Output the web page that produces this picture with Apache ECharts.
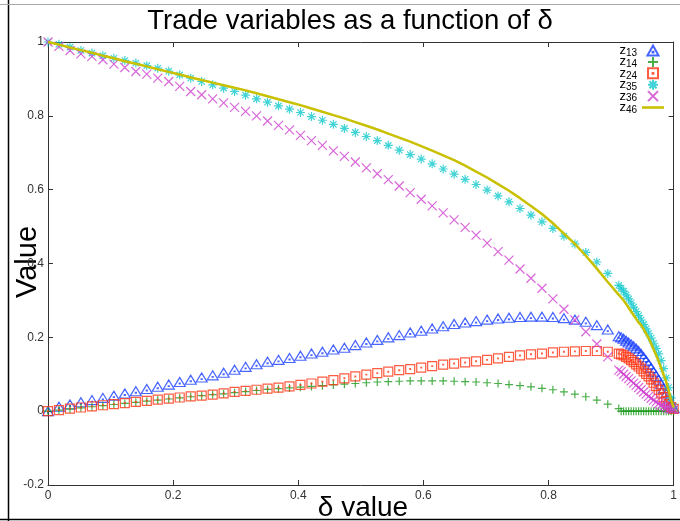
<!DOCTYPE html>
<html><head><meta charset="utf-8">
<script src="https://cdn.jsdelivr.net/npm/echarts@6/dist/echarts.min.js"></script>
<style>html,body{margin:0;padding:0;background:#fff}#c{width:680px;height:521px}</style>
</head><body><div id="c"></div>
<script>
const delta = [0, 0.0175, 0.0351, 0.0526, 0.0702, 0.0877, 0.1053, 0.1228, 0.1404, 0.1579, 0.1754, 0.193, 0.2105, 0.2281, 0.2456, 0.2632, 0.2807, 0.2982, 0.3158, 0.3333, 0.3509, 0.3684, 0.386, 0.4035, 0.4211, 0.4386, 0.4561, 0.4737, 0.4912, 0.5088, 0.5263, 0.5439, 0.5614, 0.5789, 0.5965, 0.614, 0.6316, 0.6491, 0.6667, 0.6842, 0.7018, 0.7193, 0.7368, 0.7544, 0.7719, 0.7895, 0.807, 0.8246, 0.8421, 0.8596, 0.8772, 0.8947, 0.9123,
  0.916, 0.92, 0.924, 0.928, 0.932, 0.936, 0.94, 0.944, 0.948, 0.952, 0.956, 0.96, 0.964, 0.968, 0.972, 0.976, 0.98, 0.984, 0.988, 0.992, 0.996, 1];

const z13 = [0, 0.012, 0.018, 0.024, 0.03, 0.036, 0.042, 0.048, 0.054, 0.06, 0.066, 0.072, 0.079, 0.085, 0.091, 0.097, 0.104, 0.112, 0.12, 0.127, 0.134, 0.139, 0.144, 0.15, 0.156, 0.161, 0.167, 0.172, 0.179, 0.186, 0.193, 0.2, 0.206, 0.213, 0.218, 0.224, 0.23, 0.236, 0.24, 0.244, 0.248, 0.251, 0.253, 0.255, 0.256, 0.256, 0.255, 0.252, 0.248, 0.242, 0.233, 0.221, 0.203,
  0.2, 0.196, 0.191, 0.186, 0.181, 0.176, 0.17, 0.163, 0.155, 0.146, 0.137, 0.127, 0.117, 0.107, 0.096, 0.085, 0.073, 0.061, 0.048, 0.034, 0.02, 0.008];

const z14 = [0, 0.003, 0.006, 0.009, 0.012, 0.015, 0.018, 0.021, 0.024, 0.027, 0.03, 0.033, 0.036, 0.039, 0.042, 0.045, 0.047, 0.05, 0.053, 0.056, 0.059, 0.061, 0.063, 0.065, 0.067, 0.069, 0.071, 0.073, 0.075, 0.077, 0.079, 0.08, 0.081, 0.082, 0.082, 0.082, 0.082, 0.081, 0.08, 0.079, 0.077, 0.075, 0.072, 0.069, 0.066, 0.062, 0.058, 0.052, 0.046, 0.039, 0.03, 0.019, 0.007,
  0, 0, 0, 0, 0, 0, 0, 0, 0, 0, 0, 0, 0, 0, 0, 0, 0, 0, 0, 0, 0, 0];

const z24 = [0, 0.003, 0.007, 0.01, 0.013, 0.016, 0.019, 0.022, 0.025, 0.028, 0.031, 0.034, 0.037, 0.04, 0.042, 0.045, 0.048, 0.052, 0.055, 0.058, 0.061, 0.064, 0.067, 0.071, 0.075, 0.08, 0.084, 0.089, 0.094, 0.099, 0.103, 0.107, 0.111, 0.114, 0.118, 0.122, 0.126, 0.129, 0.132, 0.135, 0.139, 0.143, 0.147, 0.151, 0.154, 0.156, 0.159, 0.161, 0.162, 0.163, 0.163, 0.161, 0.156,
  0.154, 0.151, 0.147, 0.143, 0.138, 0.133, 0.127, 0.121, 0.115, 0.108, 0.101, 0.094, 0.086, 0.077, 0.068, 0.058, 0.048, 0.038, 0.028, 0.019, 0.011, 0.006];

const z35 = [1.0, 0.994, 0.986, 0.977, 0.97, 0.963, 0.956, 0.95, 0.943, 0.936, 0.929, 0.921, 0.911, 0.902, 0.893, 0.884, 0.875, 0.866, 0.856, 0.846, 0.837, 0.827, 0.818, 0.809, 0.798, 0.788, 0.777, 0.766, 0.755, 0.744, 0.733, 0.72, 0.707, 0.695, 0.683, 0.67, 0.656, 0.642, 0.628, 0.614, 0.599, 0.583, 0.567, 0.549, 0.531, 0.513, 0.495, 0.474, 0.453, 0.43, 0.404, 0.373, 0.341,
  0.333, 0.325, 0.315, 0.304, 0.293, 0.282, 0.27, 0.259, 0.247, 0.235, 0.223, 0.211, 0.198, 0.184, 0.17, 0.155, 0.137, 0.115, 0.09, 0.064, 0.036, 0.012];

const z36 = [1.0, 0.988, 0.977, 0.968, 0.961, 0.952, 0.94, 0.931, 0.92, 0.913, 0.902, 0.893, 0.88, 0.866, 0.857, 0.846, 0.835, 0.823, 0.812, 0.8, 0.786, 0.774, 0.762, 0.747, 0.733, 0.72, 0.705, 0.69, 0.675, 0.659, 0.643, 0.627, 0.61, 0.592, 0.574, 0.556, 0.537, 0.518, 0.498, 0.477, 0.455, 0.432, 0.409, 0.385, 0.36, 0.333, 0.304, 0.276, 0.247, 0.215, 0.182, 0.147, 0.111,
  0.107, 0.1, 0.094, 0.088, 0.082, 0.076, 0.07, 0.064, 0.058, 0.052, 0.046, 0.04, 0.035, 0.03, 0.025, 0.02, 0.016, 0.012, 0.009, 0.007, 0.006, 0.005];

const z46 = [1.0, 0.993, 0.985, 0.978, 0.971, 0.963, 0.956, 0.948, 0.941, 0.934, 0.926, 0.919, 0.912, 0.904, 0.897, 0.89, 0.883, 0.876, 0.869, 0.861, 0.853, 0.845, 0.837, 0.829, 0.82, 0.811, 0.802, 0.793, 0.783, 0.773, 0.763, 0.752, 0.741, 0.73, 0.718, 0.706, 0.693, 0.68, 0.665, 0.649, 0.633, 0.615, 0.597, 0.577, 0.556, 0.534, 0.509, 0.481, 0.453, 0.421, 0.386, 0.35, 0.315,
  0.308, 0.3, 0.29, 0.28, 0.27, 0.26, 0.25, 0.24, 0.233, 0.222, 0.21, 0.198, 0.183, 0.167, 0.152, 0.135, 0.117, 0.098, 0.08, 0.055, 0.03, 0.01];

const seriesNames = ['z13', 'z14', 'z24', 'z35', 'z36', 'z46'];
const titleText = 'Trade variables as a function of \u03b4';
const xLabelText = '\u03b4 value';
const yLabelText = 'Value';

const FONT = '"Liberation Sans", Arial, Helvetica, sans-serif';
const pairs = ys => delta.map((d, i) => [d, ys[i]]);
const SYM = {
  tri: 'path://M5,0L10,9L0,9ZM4.6,5.6L5.4,5.6L5.4,6.4L4.6,6.4Z',
  plus: 'path://M0,5L10,5M5,0L5,10',
  sq: 'path://M0,0L10,0L10,10L0,10ZM4.6,4.6L5.4,4.6L5.4,5.4L4.6,5.4Z',
  star: 'path://M0,5L10,5M5,0L5,10M1.5,1.5L8.5,8.5M8.5,1.5L1.5,8.5',
  cross: 'path://M0,0L10,10M10,0L0,10'
};
const LINE_COLOR = '#c8c000';
function scat(name, ys, sym, size, color) {
  return {
    name, type: 'scatter', data: pairs(ys), symbol: sym, symbolSize: size,
    itemStyle: { color: 'rgba(0,0,0,0)', borderColor: color, borderWidth: 1.2 },
    xAxisIndex: 0, yAxisIndex: 0
  };
}
const chart = echarts.init(document.getElementById('c'), null, { renderer: 'canvas' });
const axisCommon = {
  type: 'value', min: 0, max: 1, interval: 0.2,
  axisLine: { show: true, onZero: false, lineStyle: { color: '#333', width: 1 } },
  axisTick: { show: true, inside: true, length: 5, lineStyle: { color: '#333' } },
  splitLine: { show: false }
};
chart.setOption({
  animation: false,
  backgroundColor: '#fff',
  grid: { left: 48, right: 2, top: 42, bottom: 36, containLabel: false },
  xAxis: [
    Object.assign({}, axisCommon, { position: 'bottom',
      axisLabel: { color: '#333', fontSize: 12, fontFamily: FONT, margin: 5 } }),
    Object.assign({}, axisCommon, { position: 'top', axisLabel: { show: false } })
  ],
  yAxis: [
    Object.assign({}, axisCommon, { min: -0.2, max: 1, position: 'left',
      axisLabel: { color: '#333', fontSize: 12, fontFamily: FONT, margin: 4 } }),
    Object.assign({}, axisCommon, { min: -0.2, max: 1, position: 'right', axisLabel: { show: false } })
  ],
  legend: {
    orient: 'vertical', right: 11, top: 39, itemGap: -2.6, itemWidth: 22, itemHeight: 10,
    align: 'right',
    data: seriesNames.map(n => n === 'z46'
      ? { name: n, icon: 'path://M0,0L22,0L22,2.6L0,2.6Z', itemStyle: { color: LINE_COLOR } }
      : { name: n }),
    formatter: n => '{a|z}{b|' + n.slice(1) + '}',
    textStyle: { fontFamily: FONT, color: '#000',
      rich: { a: { fontSize: 13, fontFamily: FONT, color: '#000' },
              b: { fontSize: 10, fontFamily: FONT, color: '#000', padding: [5, 0, 0, 0] } } }
  },
  graphic: [
    { type: 'line', shape: { x1: 8.5, y1: 0, x2: 8.5, y2: 521 }, style: { stroke: '#000', lineWidth: 1.5 } },
    { type: 'line', shape: { x1: 0, y1: 519.5, x2: 680, y2: 519.5 }, style: { stroke: '#000', lineWidth: 1.5 } },
    { type: 'line', shape: { x1: 0, y1: 4.5, x2: 680, y2: 4.5 }, style: { stroke: '#aaa', lineWidth: 1 } },
    { type: 'text', x: 350, y: 21, style: { text: titleText, fontSize: 27.5, fontFamily: FONT, fill: '#000', align: 'center', verticalAlign: 'middle' } },
    { type: 'text', x: 28, y: 262, rotation: Math.PI / 2, style: { text: yLabelText, fontSize: 29, fontFamily: FONT, fill: '#000', align: 'center', verticalAlign: 'middle' } },
    { type: 'text', x: 363, y: 508, style: { text: xLabelText, fontSize: 28, fontFamily: FONT, fill: '#000', align: 'center', verticalAlign: 'middle' } }
  ],
  series: [
    scat('z13', z13, SYM.tri, [11, 9], '#1a40ff'),
    scat('z14', z14, SYM.plus, 8, '#1a9a1a'),
    scat('z24', z24, SYM.sq, 9, '#ff3311'),
    scat('z35', z35, SYM.star, 9, '#11c8cc'),
    scat('z36', z36, SYM.cross, 9, '#d040d0'),
    { name: 'z46', type: 'line', data: pairs(z46), symbol: 'none', smooth: false,
      lineStyle: { color: LINE_COLOR, width: 2.5 }, itemStyle: { color: LINE_COLOR } }
  ]
});
</script>
</body></html>
